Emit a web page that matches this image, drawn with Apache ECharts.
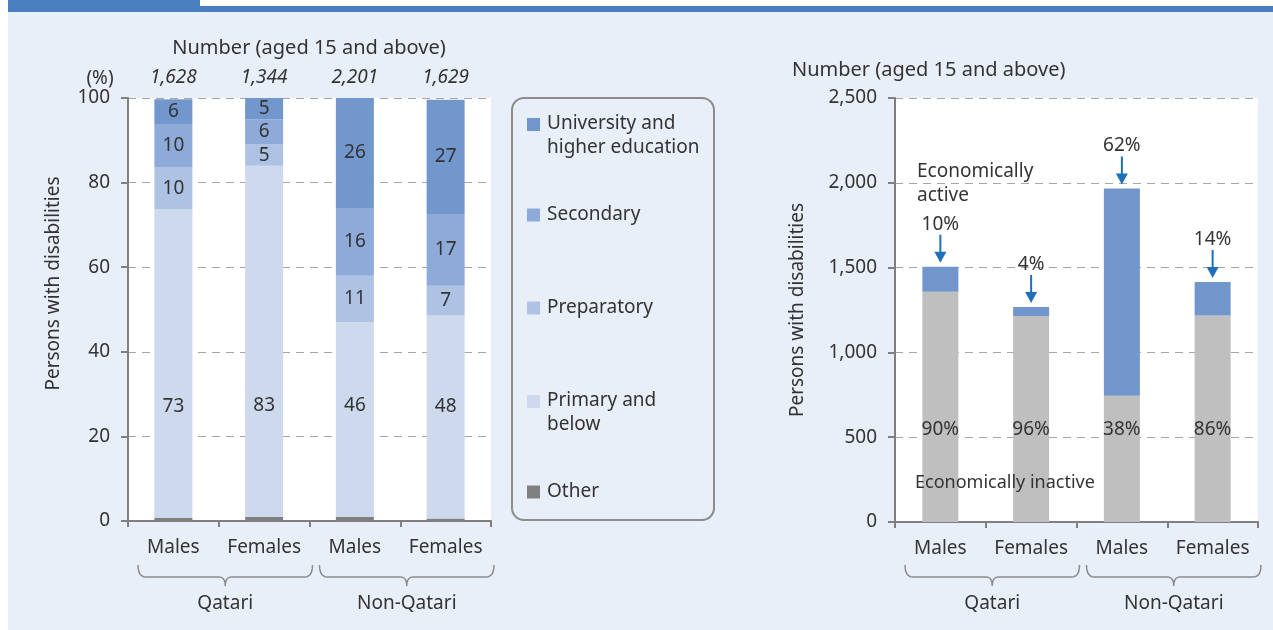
<!DOCTYPE html>
<html>
<head>
<meta charset="utf-8">
<script src="https://cdn.jsdelivr.net/npm/echarts@6/dist/echarts.min.js"></script>
<style>
  html, body { margin: 0; padding: 0; background: #fff; }
  .wrap { position: relative; width: 1273px; height: 630px; overflow: hidden; }
  .bg { position: absolute; left: 8px; top: 12px; right: 0; bottom: 0; background: #e9eff8; }
  .tab { position: absolute; left: 8px; top: 0; width: 192px; height: 12px; background: #4a7fc0; }
  .rule { position: absolute; left: 200px; top: 6px; right: 0; height: 6px; background: #4a7fc0; }
  #chart { position: absolute; left: 0; top: 0; width: 1273px; height: 630px; }
</style>
</head>
<body>
<div class="wrap">
  <div class="bg"></div>
  <div class="tab"></div>
  <div class="rule"></div>
  <div id="chart"></div>
</div>
<script>
// categories
const categories = ['Males', 'Females', 'Males', 'Females'];
const groups = ['Qatari', 'Non-Qatari'];

// left: education attainment (%)
const totalsLeft = ['1,628', '1,344', '2,201', '1,629'];
const other = [0.7, 1.0, 1.0, 0.6];
const primary = [73, 83, 46, 48];
const preparatory = [10, 5, 11, 7];
const secondary = [10, 6, 16, 17];
const university = [6, 5, 26, 27];

// right: economic activity (persons)
const inactive = [1358, 1215, 745, 1217];
const active = [147, 52, 1222, 198];
const inactivePct = ['90%', '96%', '38%', '86%'];
const activePct = ['10%', '4%', '62%', '14%'];

const FONT = 'Noto Sans';
const TXT = '#333';
const AX = '#7f7f7f';
const FS = 19;

(function(){
  const chart = echarts.init(document.getElementById('chart'));

  const axisLine = { show: true, lineStyle: { color: AX, width: 2 } };
  const catAxis = (grid, data) => ({
    gridIndex: grid, type: 'category', data: data,
    axisLine: axisLine,
    axisTick: { show: true, length: 6, lineStyle: { color: AX, width: 2 } },
    axisLabel: { interval: 0, margin: 17, fontSize: FS, color: TXT, fontFamily: FONT }
  });
  const valAxis = (grid, max, interval, fmt) => ({
    gridIndex: grid, type: 'value', min: 0, max: max, interval: interval,
    axisLine: axisLine,
    axisTick: { show: true, length: 7, lineStyle: { color: AX, width: 2 } },
    axisLabel: { margin: 18, fontSize: FS, color: TXT, fontFamily: FONT, formatter: fmt },
    splitLine: { show: true, lineStyle: { color: '#a6a6a6', type: [8, 6], width: 1 } },
    name: 'Persons with disabilities', nameLocation: 'middle',
    nameTextStyle: { fontSize: 19, color: TXT, fontFamily: FONT }
  });

  const yLeft = valAxis(0, 100, 20);
  yLeft.nameGap = 65;
  yLeft.nameTextStyle.padding = [0, 0, 0, 52];
  const yRight = valAxis(1, 2500, 500, v => v.toLocaleString('en-US'));
  yRight.nameGap = 88;

  const eduLabel = { show: true, color: TXT, fontSize: FS, fontFamily: FONT };
  const eduSeries = (name, data, color, label) => ({
    name: name, type: 'bar', stack: 'edu', data: data, barWidth: 38,
    xAxisIndex: 0, yAxisIndex: 0,
    itemStyle: { color: color },
    label: label
  });

  const legends = [
    ['University and\nhigher education', 112, true],
    ['Secondary', 203, false],
    ['Preparatory', 296, false],
    ['Primary and\nbelow', 389, true],
    ['Other', 480, false]
  ].map(([name, top, twoLine]) => ({
    data: [name], left: 527, top: top, orient: 'vertical', padding: 0,
    selectedMode: false,
    itemWidth: 13, itemHeight: twoLine ? 48 : 13,
    icon: twoLine ? 'path://M0,6H13V19H0Z M6,0L6.01,0L6,0.01Z M6,48L6.01,48L6,47.99Z' : 'rect',
    itemGap: 0,
    textStyle: { fontSize: FS, color: TXT, fontFamily: FONT, lineHeight: 24, padding: [0, 0, 0, 2] }
  }));

  chart.setOption({
    animation: false,
    textStyle: { fontFamily: FONT },
    title: [
      { text: 'Number (aged 15 and above)', left: 304, top: 33, textAlign: 'center',
        textStyle: { fontSize: 20, fontWeight: 'normal', color: TXT, fontFamily: FONT } },
      { text: 'Number (aged 15 and above)', left: 787, top: 55,
        textStyle: { fontSize: 20, fontWeight: 'normal', color: TXT, fontFamily: FONT } },
      { text: '(%)', left: 95, top: 64, textAlign: 'center',
        textStyle: { fontSize: FS, fontWeight: 'normal', color: TXT, fontFamily: FONT } }
    ],
    legend: legends,
    grid: [
      { left: 128, top: 98, width: 363, height: 423, show: true, backgroundColor: '#fff', borderWidth: 0 },
      { left: 895, top: 98, width: 363, height: 424, show: true, backgroundColor: '#fff', borderWidth: 0 }
    ],
    xAxis: [
      catAxis(0, categories),
      { gridIndex: 0, type: 'category', position: 'top', data: totalsLeft,
        axisLine: { show: false }, axisTick: { show: false },
        axisLabel: { interval: 0, margin: 11, fontSize: FS, fontStyle: 'italic', color: TXT, fontFamily: FONT } },
      catAxis(1, categories)
    ],
    yAxis: [yLeft, yRight],
    series: [
      eduSeries('Other', other, '#808080', { show: false }),
      eduSeries('Primary and\nbelow', primary, '#cdd9ed',
        Object.assign({ position: 'insideBottom', distance: 102 }, eduLabel)),
      eduSeries('Preparatory', preparatory, '#aec3e4', eduLabel),
      eduSeries('Secondary', secondary, '#8eaad8', eduLabel),
      eduSeries('University and\nhigher education', university, '#7297cd', eduLabel),
      {
        name: 'Economically inactive', type: 'bar', stack: 'econ', data: inactive, barWidth: 36,
        xAxisIndex: 2, yAxisIndex: 1,
        itemStyle: { color: '#bfbfbf' },
        label: { show: true, position: 'insideBottom', distance: 83, color: TXT, fontSize: FS, fontFamily: FONT,
          formatter: p => inactivePct[p.dataIndex] }
      },
      {
        name: 'Economically active', type: 'bar', stack: 'econ', data: active, barWidth: 36,
        xAxisIndex: 2, yAxisIndex: 1,
        itemStyle: { color: '#7096cc' }
      },
      {
        name: 'arrows', type: 'scatter', xAxisIndex: 2, yAxisIndex: 1, z: 5,
        data: inactive.map((v, i) => v + active[i]),
        symbol: 'path://M5,0H7V17H12L6,28L0,17H5Z',
        symbolSize: [12, 28], symbolOffset: [0, -18], symbolKeepAspect: false,
        itemStyle: { color: '#1f6fb9', opacity: 1 },
        label: { show: true, position: 'top', distance: 1, color: TXT, fontSize: FS, fontFamily: FONT,
          formatter: p => activePct[p.dataIndex] }
      }
    ]
  });

  // quadratic curve sampled into points
  function quad(p0, p1, p2, n){
    const pts = [];
    for(let i = 1; i <= n; i++){
      const t = i / n, u = 1 - t;
      pts.push([u * u * p0[0] + 2 * u * t * p1[0] + t * t * p2[0], u * u * p0[1] + 2 * u * t * p1[1] + t * t * p2[1]]);
    }
    return pts;
  }

  // group braces and labels under each x axis
  function braces(xAxisIndex){
    const c0 = chart.convertToPixel({ xAxisIndex: xAxisIndex }, 0);
    const c1 = chart.convertToPixel({ xAxisIndex: xAxisIndex }, 1);
    const band = c1 - c0;
    const edge = k => c0 - band / 2 + k * band;
    const yTop = 565, yMid = 577, yBot = 586;
    const out = [];
    groups.forEach((g, gi) => {
      const x1 = edge(gi * 2) + 10, x2 = edge(gi * 2 + 2) + 3, cx = (x1 + x2) / 2;
      let pts = [[x1, yTop]];
      pts = pts.concat(quad([x1, yTop], [x1, yMid], [x1 + 8, yMid], 6));
      pts.push([cx - 6, yMid]);
      pts = pts.concat(quad([cx - 6, yMid], [cx, yMid], [cx, yBot], 5));
      pts = pts.concat(quad([cx, yBot], [cx, yMid], [cx + 6, yMid], 5));
      pts.push([x2 - 8, yMid]);
      pts = pts.concat(quad([x2 - 8, yMid], [x2, yMid], [x2, yTop], 6));
      out.push({
        type: 'polyline', silent: true, z: 100,
        shape: { points: pts },
        style: { fill: null, stroke: '#8c8c8c', lineWidth: 1.5 }
      });
      out.push({
        type: 'text', x: cx, y: 604, silent: true, z: 100,
        style: { text: g, fill: TXT, font: FS + 'px "' + FONT + '"', textAlign: 'center', textVerticalAlign: 'middle' }
      });
    });
    return out;
  }

  chart.setOption({
    graphic: [
      { type: 'rect', silent: true, z: 100, shape: { x: 512, y: 98, width: 202, height: 422, r: 12 },
        style: { fill: null, stroke: '#8c8c8c', lineWidth: 2 } },
      { type: 'text', x: 917, y: 160, silent: true, z: 100,
        style: { text: 'Economically\nactive', fill: TXT, font: FS + 'px "' + FONT + '"', lineHeight: 24 } },
      { type: 'text', x: 915, y: 474, silent: true, z: 100,
        style: { text: 'Economically inactive', fill: TXT, font: '18px "' + FONT + '"' } }
    ].concat(braces(0), braces(2))
  });

  window.addEventListener('resize', () => chart.resize());
})();
</script>
</body>
</html>
